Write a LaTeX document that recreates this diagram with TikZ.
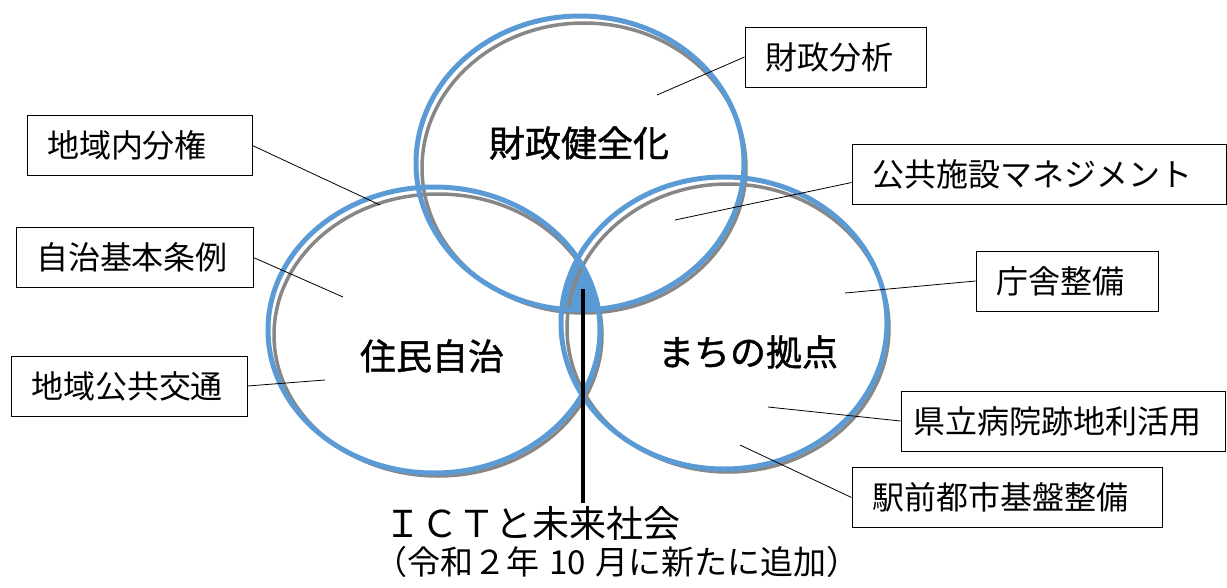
\documentclass[tikz,border=0pt]{standalone}
\usepackage{fontspec}
\setmainfont{Noto Sans CJK JP}
\newfontfamily\jpfont{Noto Sans CJK JP}
\newfontfamily\bigfont[FakeBold=1.2]{Noto Sans CJK JP}
\definecolor{ringblue}{RGB}{91,155,213}
\definecolor{shadowgray}{RGB}{135,135,135}
\begin{document}
\begin{tikzpicture}[x=1pt,y=-1pt,
  ring/.style={draw=ringblue,line width=5pt},
  shade/.style={draw=shadowgray,line width=3.5pt},
  labelbox/.style={draw=black,line width=0.9pt,inner xsep=20pt,inner ysep=0pt,align=left,minimum height=60pt,font=\jpfont\fontsize{32}{34}\selectfont},
  biglabel/.style={font=\bigfont\fontsize{36}{40}\selectfont,inner sep=0pt},
  conn/.style={draw=black,line width=0.8pt}]
\useasboundingbox (0,0) rectangle (1227,587);
% centre fill (intersection of all three)
\begin{scope}
  \clip (580,163) ellipse [x radius=164pt, y radius=147pt];
  \clip (434,330) ellipse [x radius=166pt, y radius=143pt];
  \fill[ringblue] (724,323) ellipse [x radius=163pt, y radius=146pt];
\end{scope}
% shadows
\draw[shade] (584,168) ellipse [x radius=162pt, y radius=145pt];
\draw[shade] (438,335) ellipse [x radius=164pt, y radius=141pt];
\draw[shade] (728,328) ellipse [x radius=161pt, y radius=144pt];
% rings
\draw[ring] (580,163) ellipse [x radius=164pt, y radius=147pt];
\draw[ring] (434,330) ellipse [x radius=166pt, y radius=143pt];
\draw[ring] (724,323) ellipse [x radius=163pt, y radius=146pt];
% big labels
\node[biglabel] (zk) at (579,143) {財政健全化};
\node[biglabel] (jm) at (432,356) {住民自治};
\node[biglabel] (mk) at (748,352) {まちの拠点};
% ICT line and labels
\coordinate (ictTop) at (583,289);
\node[font=\jpfont\fontsize{37}{40}\selectfont,inner sep=0pt] (ict) at (532,523) {ＩＣＴと未来社会};
\draw[black,line width=4pt] (ictTop) -- ([yshift=3pt]ict.north -| ictTop);
\node[font=\jpfont\fontsize{33}{35}\selectfont,inner sep=0pt] (rw) at (617,562) {（令和２年\hspace{10pt}10\hspace{10pt}月に新たに追加）};
% boxes
\node[labelbox,text width=141pt] (b1) at (835.5,57) {財政分析};
\node[labelbox,text width=334pt] (b2) at (1039,174.5) {公共施設マネジメント};
\node[labelbox,text width=142pt] (b3) at (1067,281) {庁舎整備};
\node[labelbox,inner xsep=12pt,text width=300pt] (b4) at (1063,421) {県立病院跡地利活用};
\node[labelbox,text width=270pt] (b5) at (1007,497.5) {駅前都市基盤整備};
\node[labelbox,text width=185pt] (b6) at (139.5,145.5) {地域内分権};
\node[labelbox,text width=197pt] (b7) at (134.5,257.5) {自治基本条例};
\node[labelbox,text width=196pt] (b8) at (129,386) {地域公共交通};
% connector ends
\coordinate (e1) at (657,95);
\coordinate (e2) at (675,220);
\coordinate (e3) at (845,293);
\coordinate (e4) at (768,407);
\coordinate (e5) at (740,445);
\coordinate (e6) at (380,205);
\coordinate (e7) at (343,297);
\coordinate (e8) at (325,380);
\draw[conn] (b1.west) -- (e1);
\draw[conn] ([yshift=-8pt]b2.west) -- (e2);
\draw[conn] (b3.west) -- (e3);
\draw[conn] (b4.west) -- (e4);
\draw[conn] (b5.west) -- (e5);
\draw[conn] (b6.east) -- (e6);
\draw[conn] (b7.east) -- (e7);
\draw[conn] (b8.east) -- (e8);
\end{tikzpicture}
\end{document}
